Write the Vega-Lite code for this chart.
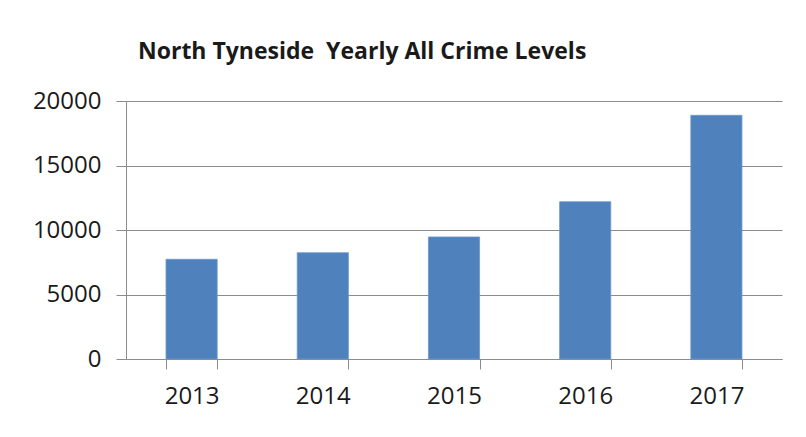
{
  "$schema": "https://vega.github.io/schema/vega-lite/v6.json",
  "autosize": "none",
  "width": 656,
  "height": 258,
  "padding": {"left": 126, "top": 101, "right": 24, "bottom": 78},
  "background": "white",
  "title": {
    "text": "North Tyneside\u00a0 Yearly All Crime Levels",
    "anchor": "start",
    "frame": "group",
    "dx": 12,
    "offset": 7,
    "baseline": "alphabetic",
    "font": "Open Sans",
    "fontSize": 23,
    "fontWeight": "bold",
    "color": "#1a1a1a"
  },
  "data": {
    "values": [
      {"year": "2013", "crimes": 7730},
      {"year": "2014", "crimes": 8240},
      {"year": "2015", "crimes": 9460},
      {"year": "2016", "crimes": 12190},
      {"year": "2017", "crimes": 18890}
    ]
  },
  "mark": {"type": "bar", "color": "#4F81BD", "stroke": "#6f97c9", "strokeWidth": 0.8},
  "encoding": {
    "x": {
      "field": "year",
      "type": "nominal",
      "sort": null,
      "title": null,
      "scale": {"paddingInner": 0.61, "paddingOuter": 0.305},
      "axis": {
        "tickBand": "extent",
        "tickSize": 10,
        "tickColor": "#8c8c8c",
        "domainColor": "#8c8c8c",
        "labelAngle": 0,
        "labelFont": "Open Sans",
        "labelFontSize": 24,
        "labelColor": "#1a1a1a",
        "labelPadding": 15,
        "grid": false
      }
    },
    "y": {
      "field": "crimes",
      "type": "quantitative",
      "title": null,
      "scale": {"domain": [0, 20000], "nice": false},
      "axis": {
        "values": [0, 5000, 10000, 15000, 20000],
        "tickSize": 10,
        "tickColor": "#8c8c8c",
        "domainColor": "#8c8c8c",
        "gridColor": "#8c8c8c",
        "grid": true,
        "labelFont": "Open Sans",
        "labelFontSize": 24,
        "labelColor": "#1a1a1a",
        "labelPadding": 15,
        "format": "d"
      }
    }
  },
  "config": {"view": {"stroke": null}}
}
